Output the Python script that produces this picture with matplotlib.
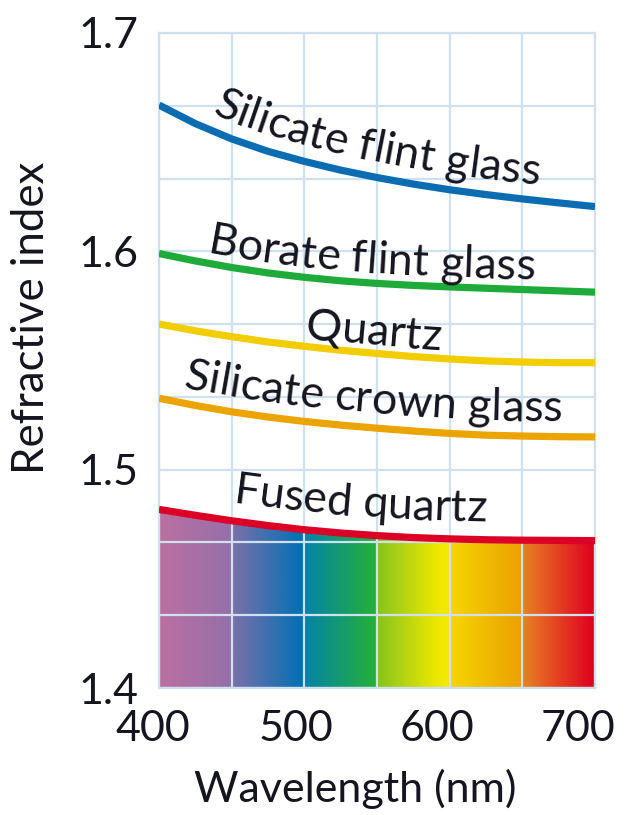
import numpy as np
import matplotlib
matplotlib.use("Agg")
import matplotlib.pyplot as plt
from matplotlib.colors import LinearSegmentedColormap
from matplotlib.ticker import MultipleLocator, FixedLocator, NullFormatter
from matplotlib.font_manager import FontProperties
from matplotlib.textpath import TextToPath
from matplotlib.patches import Polygon
from matplotlib.transforms import ScaledTranslation

# ---------------- data ----------------
wavelength = [400, 425, 450, 475, 500, 525, 550, 575, 600, 625, 650, 675, 700]
silicate_flint = [1.667, 1.6585, 1.6515, 1.6458, 1.6412, 1.6372, 1.6338, 1.6308, 1.6282, 1.626, 1.624, 1.6222, 1.6205]
borate_flint = [1.599, 1.5956, 1.5926, 1.5901, 1.5881, 1.5865, 1.5853, 1.5844, 1.5837, 1.5831, 1.5825, 1.5819, 1.5813]
quartz = [1.5667, 1.5636, 1.5609, 1.5585, 1.5565, 1.5547, 1.5532, 1.5518, 1.5507, 1.5498, 1.5493, 1.549, 1.549]
silicate_crown = [1.5327, 1.5294, 1.5265, 1.5241, 1.5221, 1.5204, 1.519, 1.5177, 1.5166, 1.5158, 1.5154, 1.5151, 1.515]
fused_quartz = [1.4818, 1.4791, 1.4766, 1.4744, 1.4725, 1.471, 1.4698, 1.4689, 1.4683, 1.4679, 1.4677, 1.4676, 1.4675]

labels = ["Silicate flint glass", "Borate flint glass", "Quartz", "Silicate crown glass", "Fused quartz"]
series = [silicate_flint, borate_flint, quartz, silicate_crown, fused_quartz]
colors = ["#0b6cb2", "#1fab3a", "#f2cd00", "#eba400", "#dc0026"]

x_ticks = [400, 500, 600, 700]
y_ticks = [1.4, 1.5, 1.6, 1.7]

# label placement (start wavelength of text, baseline offset above curve in px)
label_start = [436, 433, 500.5, 416.5, 450.5]
label_offset = [15, 10, 8, 15, 18]
# horizontal nudge of x tick labels (px)
xtick_shift = [-6, -8, -13, -17]

FONT = "Lato"
TXT = "#15151f"
GRID = "#cfe0ef"

W, H, DPI = 627, 815, 100
fig = plt.figure(figsize=(W / DPI, H / DPI), dpi=DPI)
ax = fig.add_axes([159 / W, 1 - 688 / H, 436 / W, 655 / H])
ax.set_xlim(400, 700)
ax.set_ylim(1.4, 1.7)

# spectrum gradient under the fused quartz curve
stops = [
    (0.000, "#bb6fa0"), (0.160, "#9670a9"), (0.172, "#7670ab"), (0.330, "#0070b4"),
    (0.338, "#0584a6"), (0.497, "#24b136"), (0.503, "#88c41e"), (0.640, "#eee800"),
    (0.664, "#f3ea00"), (0.670, "#f5d600"), (0.828, "#eca200"), (0.836, "#e88224"),
    (1.000, "#df0020"),
]
cmap = LinearSegmentedColormap.from_list("spec", stops)
grad = np.linspace(0, 1, 600).reshape(1, -1)
top = max(fused_quartz)
im = ax.imshow(grad, cmap=cmap, extent=[400, 700, 1.4, top], aspect="auto",
               interpolation="bilinear", zorder=0)
poly_pts = list(zip(wavelength, fused_quartz)) + [(700, 1.4), (400, 1.4)]
clip = Polygon(poly_pts, closed=True, transform=ax.transData, facecolor="none", edgecolor="none")
ax.add_patch(clip)
im.set_clip_path(clip)

# curves
for vals, c in zip(series, colors):
    ax.plot(wavelength, vals, color=c, lw=5.2, solid_capstyle="butt", zorder=3)

# grid / axes
ax.set_axisbelow(False)
ax.xaxis.set_major_locator(FixedLocator(x_ticks))
ax.xaxis.set_minor_locator(MultipleLocator(50))
ax.yaxis.set_major_locator(FixedLocator(y_ticks))
ax.yaxis.set_minor_locator(MultipleLocator(0.1 / 3))
ax.grid(True, which="both", color=GRID, lw=1.6)
for sp in ax.spines.values():
    sp.set_color(GRID)
    sp.set_linewidth(1.6)
ax.tick_params(which="both", length=0)
ax.tick_params(axis="y", pad=15)
ax.xaxis.set_major_formatter(NullFormatter())
ax.set_yticklabels([f"{v:.1f}" for v in y_ticks])
for lab in ax.get_yticklabels():
    lab.set_fontfamily(FONT)
    lab.set_fontsize(31)
    lab.set_color(TXT)

# x tick labels as texts (slightly nudged like the reference)
xt = ax.get_xaxis_transform()
for v, dx in zip(x_ticks, xtick_shift):
    tr = xt + ScaledTranslation(dx / DPI, -22 / DPI, fig.dpi_scale_trans)
    ax.text(v, 0, str(v), transform=tr, ha="center", va="top", fontfamily=FONT,
            fontsize=31, color=TXT, clip_on=False)

ax.set_xlabel("Wavelength (nm)", fontfamily=FONT, fontsize=31, color=TXT)
ax.set_ylabel("Refractive index", fontfamily=FONT, fontsize=31.5, color=TXT)
ax.xaxis.set_label_coords(0.45, -0.123)
ax.yaxis.set_label_coords(-0.245, 0.565)

# curved labels
ttp = TextToPath()
fp = FontProperties(family=FONT, size=32.3)


def adv(s):
    w1 = ttp.get_text_width_height_descent("|" + s + "|", fp, ismath=False)[0]
    w0 = ttp.get_text_width_height_descent("||", fp, ismath=False)[0]
    return (w1 - w0) * DPI / 72.0


def curved_label(text, xs, ys, x0, off):
    pts = ax.transData.transform(np.column_stack([xs, ys]))
    d = np.diff(pts, axis=0)
    seg_n = np.column_stack([-d[:, 1], d[:, 0]])
    seg_n /= np.linalg.norm(seg_n, axis=1, keepdims=True)
    vn = np.zeros_like(pts)
    vn[0] = seg_n[0]
    vn[-1] = seg_n[-1]
    vn[1:-1] = seg_n[:-1] + seg_n[1:]
    vn /= np.linalg.norm(vn, axis=1, keepdims=True)
    opts = pts + off * vn
    seglen = np.linalg.norm(np.diff(opts, axis=0), axis=1)
    cum = np.concatenate([[0], np.cumsum(seglen)])
    sx = ax.transData.transform((x0, 1.5))[0]
    s0 = np.interp(sx, opts[:, 0], cum)
    for i, ch in enumerate(text):
        if ch == " ":
            continue
        a0 = adv(text[:i])
        a1 = adv(text[:i + 1])
        s = s0 + 0.5 * (a0 + a1)
        px = np.interp(s, cum, opts[:, 0])
        py = np.interp(s, cum, opts[:, 1])
        # smooth tangent: average direction over a short window
        sa, sb = s - 6, s + 6
        p1 = np.array([np.interp(sa, cum, opts[:, 0]), np.interp(sa, cum, opts[:, 1])])
        p2 = np.array([np.interp(sb, cum, opts[:, 0]), np.interp(sb, cum, opts[:, 1])])
        ang = np.degrees(np.arctan2(p2[1] - p1[1], p2[0] - p1[0]))
        xd, yd = ax.transData.inverted().transform((px, py))
        ax.text(xd, yd, ch, fontproperties=fp, color=TXT, rotation=ang,
                rotation_mode="anchor", ha="center", va="baseline", zorder=4)


for lab, vals, x0, off in zip(labels, series, label_start, label_offset):
    curved_label(lab, wavelength, vals, x0, off)

fig.savefig("out.png", dpi=DPI)
